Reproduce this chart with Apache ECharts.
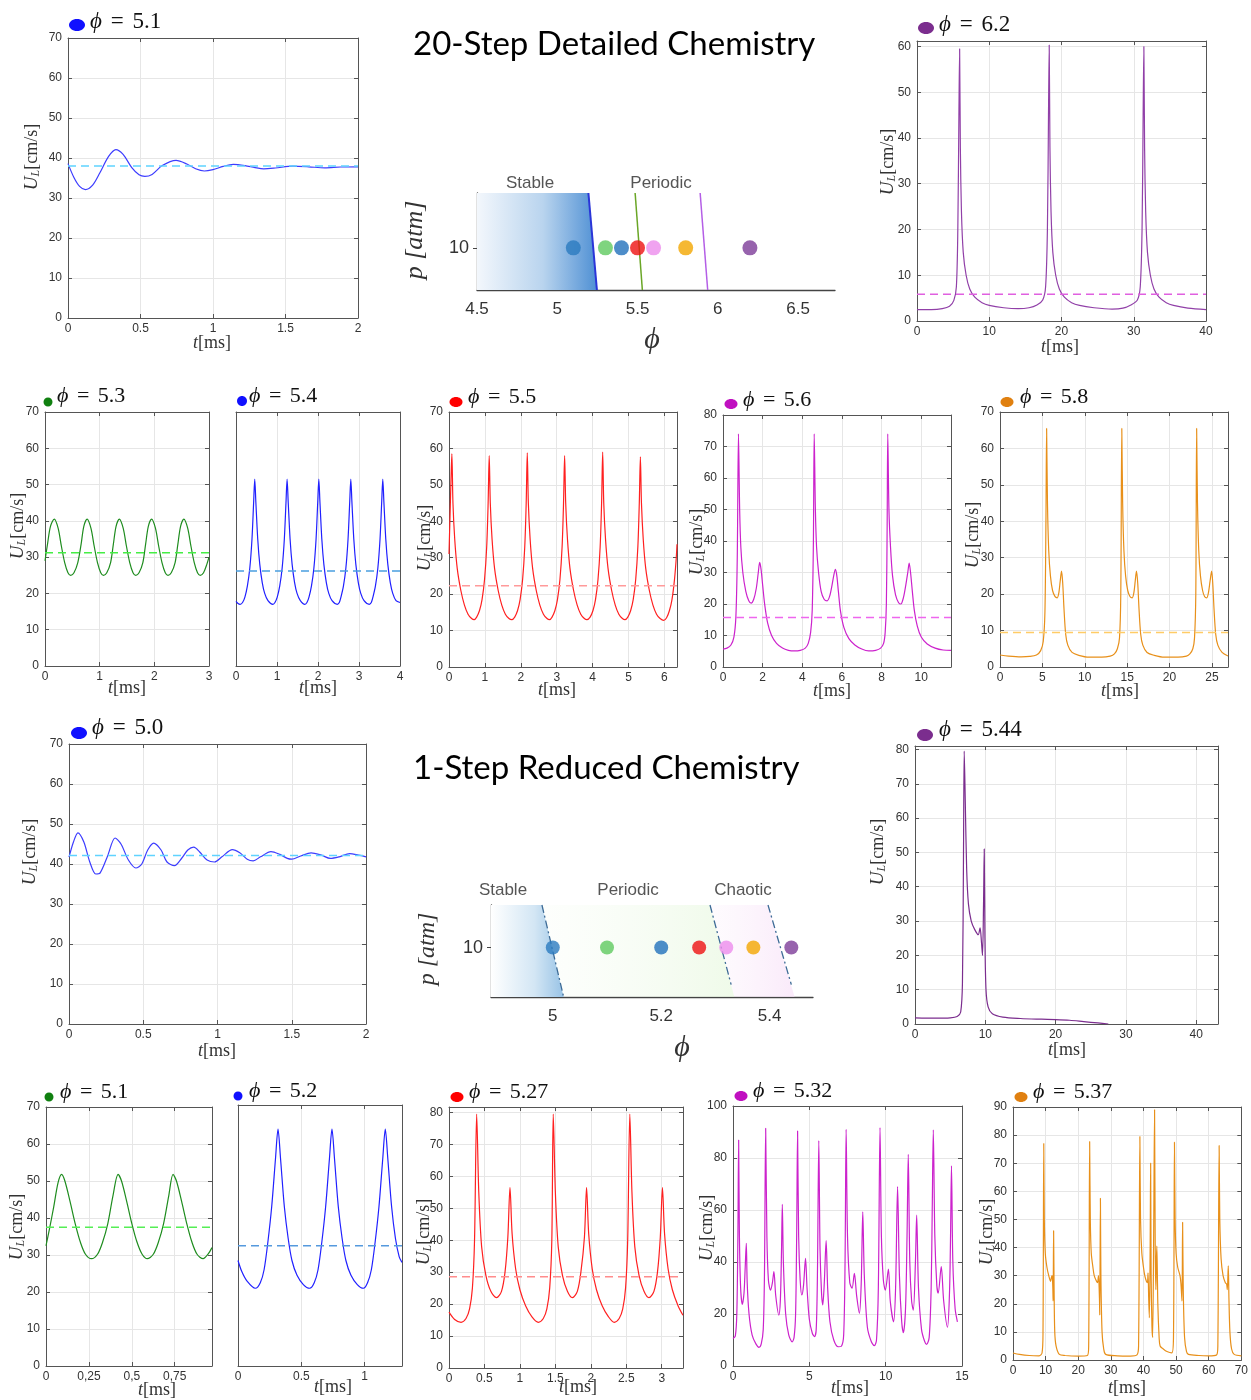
<!DOCTYPE html>
<html>
<head>
<meta charset="utf-8">
<title>Flame speed oscillations</title>
<script src="https://cdn.jsdelivr.net/npm/echarts@6.0.0/dist/echarts.min.js"></script>
<style>
html,body{margin:0;padding:0;background:#ffffff;}
#chart{width:1251px;height:1400px;}
</style>
</head>
<body>
<div id="chart"></div>
<script>
// ================= DATA =================
// 20-step detailed chemistry: [t (ms), U_L (cm/s)]
const det51 = [[0,38.6],[0.04,35.2],[0.08,32.9],[0.12,32.1],[0.17,33.2],[0.22,36.3],[0.28,40.4],[0.33,42.1],[0.38,40.9],[0.44,37.6],[0.49,35.8],[0.53,35.4],[0.58,35.9],[0.65,38.1],[0.745,39.4],[0.82,38.5],[0.88,37.3],[0.94,36.75],[1.0,37.1],[1.07,37.9],[1.14,38.4],[1.22,38.1],[1.29,37.6],[1.35,37.3],[1.43,37.5],[1.55,37.95],[1.66,37.8],[1.77,37.55],[1.88,37.75],[2.0,37.8]];
const det51Mean = 38.0;

const det62 = [[0,2.5],[2,2.5],[3.5,2.7],[4.5,3.2],[5.1,4.5],[5.45,7.5],[5.65,20],[5.8,45],[5.9,59.5],[6.0,38],[6.15,24],[6.4,15],[6.8,10],[7.3,7],[8,5.2],[9,4],[10,3.4],[12,2.9],[14,2.7],[15.5,2.9],[16.6,3.5],[17.4,4.6],[17.8,7.5],[18.05,20],[18.2,45],[18.3,60.3],[18.4,38],[18.55,24],[18.8,15],[19.2,10],[19.7,7],[20.4,5.2],[21.4,4],[22.5,3.4],[24.5,2.9],[27,2.6],[28.5,2.8],[29.6,3.5],[30.5,4.6],[30.9,7.5],[31.15,20],[31.3,45],[31.4,60],[31.5,38],[31.65,24],[31.9,15],[32.3,10],[32.8,7],[33.5,5.2],[34.5,4],[35.5,3.4],[37.5,2.8],[40,2.5]];
const det62Mean = 5.84;

const det53 = [[0,29],[0.05,34],[0.1,38.5],[0.17,40.5],[0.24,38],[0.3,33],[0.36,28.5],[0.42,25.7],[0.47,25],[0.53,25.7],[0.6,28.5],[0.66,33.5],[0.71,38.5],[0.77,40.5],[0.84,38],[0.9,33],[0.96,28.5],[1.02,25.7],[1.07,25],[1.13,25.7],[1.2,28.5],[1.25,33.5],[1.3,38.5],[1.36,40.5],[1.43,38],[1.49,33],[1.55,28.5],[1.61,25.7],[1.66,25],[1.72,25.7],[1.79,28.5],[1.84,33.5],[1.89,38.5],[1.95,40.5],[2.02,38],[2.08,33],[2.14,28.5],[2.2,25.7],[2.25,25],[2.31,25.7],[2.38,28.5],[2.43,33.5],[2.48,38.5],[2.54,40.5],[2.61,38],[2.67,33],[2.73,28.5],[2.79,25.7],[2.84,25],[2.9,25.7],[2.96,28],[3.0,30]];
const det53Mean = 31.2;

const det54 = [[0,17.8],[0.05,17.2],[0.1,17],[0.16,17.5],[0.217,19],[0.277,22],[0.337,27],[0.39,35],[0.43,45],[0.457,51.5],[0.485,45],[0.53,35],[0.58,28],[0.64,23],[0.7,20],[0.78,18],[0.9,17],[0.95,17.5],[1.006,19],[1.066,22],[1.126,27],[1.179,35],[1.219,45],[1.246,51.5],[1.274,45],[1.319,35],[1.369,28],[1.429,23],[1.489,20],[1.569,18],[1.68,17],[1.73,17.5],[1.78,19],[1.84,22],[1.9,27],[1.953,35],[1.993,45],[2.02,51.5],[2.048,45],[2.093,35],[2.143,28],[2.203,23],[2.263,20],[2.343,18],[2.47,17],[2.52,17.5],[2.56,19],[2.62,22],[2.68,27],[2.733,35],[2.773,45],[2.8,51.5],[2.828,45],[2.873,35],[2.923,28],[2.983,23],[3.043,20],[3.123,18],[3.25,17],[3.3,17.5],[3.34,19],[3.4,22],[3.46,27],[3.513,35],[3.553,45],[3.58,51.5],[3.608,45],[3.653,35],[3.703,28],[3.763,23],[3.823,20],[3.903,18],[4.0,17.5]];
const det54Mean = 26.2;

const det55 = [[0,31],[0.03,42],[0.06,53],[0.08,58.5],[0.11,45],[0.16,35],[0.23,27],[0.33,21],[0.43,17],[0.53,14.5],[0.63,13.3],[0.7,13],[0.77,13.7],[0.85,15.5],[0.92,18.5],[0.99,24],[1.05,33],[1.09,45],[1.12,58],[1.15,45],[1.2,35],[1.27,27],[1.37,21],[1.47,17],[1.57,14.5],[1.67,13.3],[1.75,13],[1.83,13.7],[1.91,15.5],[1.98,18.5],[2.05,24],[2.11,33],[2.15,45],[2.18,58.8],[2.21,45],[2.26,35],[2.33,27],[2.43,21],[2.53,17],[2.63,14.5],[2.73,13.3],[2.8,13],[2.87,13.7],[2.95,15.5],[3.02,18.5],[3.09,24],[3.15,33],[3.19,45],[3.22,58],[3.25,45],[3.3,35],[3.37,27],[3.47,21],[3.57,17],[3.67,14.5],[3.77,13.3],[3.84,13],[3.93,13.7],[4.01,15.5],[4.08,18.5],[4.15,24],[4.21,33],[4.25,45],[4.28,59],[4.31,45],[4.36,35],[4.43,27],[4.53,21],[4.63,17],[4.73,14.5],[4.83,13.3],[4.9,13],[4.98,13.7],[5.06,15.5],[5.13,18.5],[5.2,24],[5.26,33],[5.3,45],[5.33,57.7],[5.36,45],[5.41,35],[5.48,27],[5.58,21],[5.68,17],[5.78,14.5],[5.88,13.3],[5.98,12.8],[6.06,13.5],[6.14,15.5],[6.21,18.5],[6.28,24],[6.33,30],[6.35,33.7]];
const det55Mean = 22.3;

const det56 = [[0,5.7],[0.2,6],[0.4,7],[0.55,9.5],[0.65,16],[0.72,35],[0.78,74],[0.84,50],[0.9,38],[1.0,30],[1.15,24],[1.3,21],[1.42,20.3],[1.55,21.5],[1.68,25],[1.78,30],[1.85,33.2],[1.92,31],[2.0,26],[2.1,20],[2.25,14],[2.45,10],[2.7,7.5],[3.0,6],[3.3,5.3],[3.6,5.1],[3.9,5.3],[4.15,6],[4.3,7.5],[4.42,11],[4.5,18],[4.56,40],[4.6,74],[4.66,50],[4.72,38],[4.82,30],[4.95,24],[5.1,21.5],[5.25,21],[5.38,22.5],[5.5,26],[5.6,29.5],[5.67,31],[5.74,29],[5.82,24],[5.92,18],[6.1,12.5],[6.35,9],[6.65,7],[7.0,5.7],[7.35,5.1],[7.7,5.3],[7.95,6],[8.1,7.5],[8.18,11],[8.24,20],[8.28,45],[8.31,74],[8.37,50],[8.45,38],[8.55,29],[8.7,23],[8.85,20.5],[8.97,20],[9.1,22],[9.22,26],[9.32,30],[9.39,33],[9.46,30],[9.55,24],[9.65,18],[9.8,13],[10.0,9.5],[10.3,7.3],[10.7,6],[11.1,5.4],[11.5,5.3]];
const det56Mean = 15.7;

const det58 = [[0,3.3],[1,3],[2.5,2.8],[3.5,2.9],[4.3,3.3],[4.8,4.5],[5.1,7],[5.3,15],[5.42,40],[5.5,65.5],[5.6,45],[5.75,32],[5.95,25],[6.2,21],[6.5,19.3],[6.75,19],[6.95,20.5],[7.1,23.5],[7.26,26.3],[7.4,23],[7.55,16],[7.75,9],[8.0,6],[8.5,4],[9.3,3.2],[10.5,2.7],[12,2.7],[13,3],[13.5,3.6],[13.85,5],[14.1,8],[14.25,20],[14.37,65.5],[14.47,45],[14.62,32],[14.82,25],[15.07,21],[15.35,19.3],[15.6,19],[15.8,20.5],[15.95,23.5],[16.1,26.3],[16.25,23],[16.4,16],[16.6,9],[16.85,6],[17.35,4],[18.2,3.2],[19.4,2.7],[21,2.7],[22,3],[22.4,3.6],[22.75,5],[22.95,8],[23.1,20],[23.2,65.5],[23.3,45],[23.45,32],[23.65,25],[23.9,21],[24.15,19.3],[24.4,19],[24.6,20.5],[24.78,23.5],[24.97,26.3],[25.1,23],[25.25,16],[25.45,9],[25.7,6],[26.2,4],[26.9,3]];
const det58Mean = 9.5;

// 1-step reduced chemistry
const red50 = [[0,41.7],[0.03,45.5],[0.06,47.8],[0.1,45.5],[0.14,40.5],[0.18,37.5],[0.21,37.8],[0.26,42],[0.31,46.5],[0.35,45],[0.4,41],[0.45,39],[0.49,40],[0.53,43.5],[0.57,45.2],[0.62,43.5],[0.66,40.5],[0.71,39.6],[0.76,41.5],[0.8,43.5],[0.84,44.2],[0.88,43],[0.93,41],[0.98,40.5],[1.03,41.8],[1.1,43.6],[1.15,42.8],[1.2,41.2],[1.24,40.8],[1.29,41.8],[1.36,43.1],[1.42,42.4],[1.47,41.4],[1.5,41.2],[1.56,42],[1.63,42.8],[1.7,42.2],[1.76,41.4],[1.82,41.8],[1.89,42.6],[1.95,42.2],[2.0,41.8]];
const red50Mean = 42.1;

const red544 = [[0,1.8],[3,1.7],[5,1.8],[6,2.2],[6.5,3.5],[6.75,12],[6.9,50],[7.0,79.5],[7.15,65],[7.35,45],[7.6,35],[8.0,30],[8.5,27.5],[9.0,26],[9.25,28],[9.45,24],[9.6,20],[9.75,35],[9.85,51],[9.95,25],[10.1,10],[10.4,5],[11,3],[12.5,2],[15,1.6],[18,1.4],[20,1.3],[22,1.1],[24,0.7],[26,0.3],[27.5,0]];

const red51 = [[0,32.5],[0.02,37],[0.045,43],[0.07,49.5],[0.091,51.8],[0.11,50],[0.14,44.5],[0.17,38.5],[0.2,33.5],[0.23,30.2],[0.265,29],[0.3,30.2],[0.33,33.5],[0.36,38.5],[0.39,46],[0.42,51.8],[0.44,50],[0.47,44.5],[0.5,38.5],[0.53,33.5],[0.56,30.2],[0.59,29],[0.625,30.2],[0.655,33.5],[0.685,38.5],[0.715,46],[0.74,51.8],[0.76,50],[0.79,44.5],[0.82,38.5],[0.85,33.5],[0.88,30.2],[0.915,29],[0.945,30.3],[0.967,32]];
const red51Mean = 37.5;

const red52 = [[0,28.5],[0.03,25.5],[0.07,23],[0.137,21],[0.176,22.5],[0.206,26],[0.236,33.5],[0.266,43],[0.296,56],[0.316,64],[0.336,56],[0.366,43],[0.396,34.5],[0.426,28.5],[0.466,24.5],[0.516,22],[0.566,21],[0.602,22.5],[0.632,26],[0.662,33.5],[0.692,43],[0.722,56],[0.742,64],[0.762,56],[0.792,43],[0.822,34.5],[0.852,28.5],[0.892,24.5],[0.942,22],[0.99,21],[1.023,22.5],[1.053,26],[1.083,33.5],[1.113,43],[1.143,56],[1.163,64],[1.183,56],[1.213,43],[1.243,34.5],[1.273,29.5],[1.295,28]];
const red52Mean = 32.5;

const red527 = [[0,17.5],[0.08,15.2],[0.17,14.3],[0.24,15.5],[0.29,18.5],[0.33,25],[0.36,40],[0.39,79.5],[0.42,55],[0.46,38],[0.52,29],[0.59,24],[0.67,22],[0.74,24],[0.79,30],[0.83,41],[0.86,56.5],[0.89,42],[0.94,31],[1.0,24.5],[1.08,19.5],[1.17,16],[1.26,14.3],[1.33,15.5],[1.38,18.5],[1.42,25],[1.45,40],[1.47,79.5],[1.5,55],[1.54,38],[1.6,29],[1.67,24],[1.74,22],[1.81,24],[1.86,30],[1.91,41],[1.94,56.5],[1.97,42],[2.02,31],[2.08,24.5],[2.16,19.5],[2.25,16],[2.33,14.3],[2.4,15.5],[2.45,18.5],[2.49,25],[2.52,40],[2.55,79.5],[2.58,55],[2.62,38],[2.68,29],[2.75,24],[2.82,22],[2.89,24],[2.94,30],[2.98,41],[3.01,56.5],[3.04,42],[3.09,31],[3.15,24.5],[3.23,19.5],[3.3,16.5]];
const red527Mean = 28.6;

const red532 = [[0,10.6],[0.15,11.5],[0.25,20],[0.32,50],[0.37,86.9],[0.42,50],[0.5,30],[0.61,23.7],[0.72,28],[0.8,38],[0.87,47.2],[0.93,32],[1.05,20],[1.25,12],[1.5,8.5],[1.7,7.2],[1.85,8.5],[1.98,14],[2.06,35],[2.14,91.4],[2.22,50],[2.32,33],[2.46,29.2],[2.58,32],[2.68,36.3],[2.8,27],[3.0,19.6],[3.1,25],[3.18,45],[3.23,62.2],[3.3,40],[3.45,20],[3.65,12],[3.88,9.3],[4.0,11],[4.1,20],[4.17,50],[4.23,90.4],[4.3,50],[4.4,33],[4.51,27.3],[4.62,31],[4.75,41.4],[4.85,30],[5.0,18],[5.2,12.5],[5.34,11.3],[5.45,14],[5.53,35],[5.62,86.7],[5.7,45],[5.8,28],[5.88,23.5],[5.98,32],[6.1,48.2],[6.2,30],[6.35,17],[6.6,10],[6.9,7.4],[7.1,7.6],[7.25,12],[7.34,40],[7.41,91],[7.5,50],[7.65,32],[7.8,29.9],[7.95,35.6],[8.1,27],[8.28,20.3],[8.4,32],[8.5,59.3],[8.6,35],[8.8,15],[9.05,9.5],[9.26,7.8],[9.4,10],[9.52,30],[9.63,91.7],[9.72,50],[9.85,33],[9.98,29.2],[10.18,37.3],[10.3,25],[10.52,17],[10.65,30],[10.78,69],[10.9,35],[11.05,17],[11.16,12.8],[11.3,22],[11.4,50],[11.48,81.4],[11.58,40],[11.7,25],[11.81,21.5],[11.95,40],[12.03,58],[12.15,30],[12.35,14],[12.55,9.5],[12.68,8.3],[12.85,11],[12.98,30],[13.05,60],[13.12,90.8],[13.22,50],[13.35,31],[13.44,28],[13.64,38.2],[13.8,25],[14.05,14.9],[14.18,28],[14.25,50],[14.31,77],[14.4,40],[14.55,22],[14.7,17]];

const red537 = [[0,2.5],[2,2],[5,1.6],[8,1.5],[8.9,2.5],[9.2,10],[9.43,77],[9.6,50],[9.9,38],[10.4,33],[10.96,30],[11.5,28],[11.8,29.5],[12.0,30],[12.2,26],[12.3,21],[12.45,46],[12.6,25],[12.8,10],[13.2,5],[14.2,2],[16,1.6],[20,1.4],[22.8,1.6],[23.2,5],[23.5,77.7],[23.7,50],[24.0,38],[24.5,33],[24.9,30],[25.6,28],[25.9,27.5],[26.2,30],[26.5,22],[26.6,16],[26.8,57.5],[26.95,30],[27.3,10],[27.8,4],[28.4,2],[32,1.5],[36,1.4],[38,1.8],[38.5,5],[38.9,79.5],[39.1,50],[39.5,38],[40,33],[40.4,30],[40.9,28],[41.2,27.5],[41.4,31],[41.6,22],[41.8,15],[42.05,40],[42.2,70],[42.35,30],[42.6,12],[42.8,8],[43.1,40],[43.4,89],[43.6,40],[43.8,25],[43.95,35],[44.1,40.5],[44.4,20],[44.8,8],[45.1,5],[46,4],[47.2,3],[48.7,2.5],[49.2,8],[49.5,77.5],[49.7,50],[50.0,38],[50.5,33],[51.2,30],[51.5,27],[51.8,21],[52.0,49],[52.2,25],[52.6,8],[53.2,3],[53.8,2],[57,1.6],[60,1.5],[62.4,1.8],[62.8,5],[63.2,76.3],[63.4,50],[63.8,36],[64.4,30],[65.1,27.5],[65.5,27],[65.7,25],[66.0,33.5],[66.2,22],[66.5,10],[67,4],[67.8,2],[70,1.5]];

// Regime maps (phi vs p)
const detPhi = [5.1, 5.3, 5.4, 5.5, 5.6, 5.8, 6.2];
const redPhi = [5.0, 5.1, 5.2, 5.27, 5.32, 5.37, 5.44];
const mapP = 10;
const detTicks = [4.5, 5, 5.5, 6, 6.5];
const redTicks = [5, 5.2, 5.4];
const detStableRegion = [[4.5,23],[5.194,23],[5.247,0],[4.5,0]];
const detBoundStable = [[5.194,23],[5.247,0]];
const detBoundGreen = [[5.485,23],[5.53,0]];
const detBoundPurple = [[5.89,23],[5.937,0]];
const redStableRegion = [[4.886,18.6],[4.98,18.6],[5.02,0],[4.886,0]];
const redPeriodicRegion = [[4.98,18.6],[5.29,18.6],[5.335,0],[5.02,0]];
const redChaoticRegion = [[5.29,18.6],[5.397,18.6],[5.446,0],[5.335,0]];
const redBound1 = [[4.98,18.6],[5.02,0]];
const redBound2 = [[5.29,18.6],[5.329,2.5]];
const redBound3 = [[5.397,18.6],[5.44,2.5]];

// ================= STYLE / LAYOUT =================
const SANS = "'Liberation Sans', Arial, Helvetica, sans-serif";
const SERIF = "'Liberation Serif','DejaVu Serif','Times New Roman',serif";
const AX = '#555';
const GRID = '#e6e6e6';
const dotColors = ['#2b7bbf', '#5fc95f', '#2070bb', '#ee1111', '#ec8cec', '#f2a600', '#7d3c98'];

const panels = [
 {data:det51, mean:det51Mean, grid:[68,38,290,280], x:[0,2,0.5], y:[0,70,10], line:'#3c3cff', dash:'#5fd3ff', dot:'#1010ff', dotC:[77,25], dotR:[8,6], ttl:[90,22], phi:'5.1', fs:23, ylab:[32,157], xlab:[212,343]},
 {data:det62, mean:det62Mean, grid:[917,41,289,280], x:[0,40,10], y:[0,61.2,10], line:'#9140a8', dash:'#e060e0', dot:'#7b2d8e', dotC:[926,28], dotR:[8,6], ttl:[939,25], phi:'6.2', fs:23, ylab:[888,162], xlab:[1060,347]},
 {data:det53, mean:det53Mean, grid:[45,412,164,254], x:[0,3,1], y:[0,70,10], line:'#1e8c1e', dash:'#45ee45', dot:'#108010', dotC:[48,402], dotR:[4.5,4.5], ttl:[57,396], phi:'5.3', fs:22, ylab:[18,526], xlab:[127,688]},
 {data:det54, mean:det54Mean, grid:[236,412,164,254], x:[0,4,1], y:[0,70,10], hideY:true, line:'#2020ff', dash:'#4a9fe0', dot:'#1010ff', dotC:[242,401], dotR:[5,5], ttl:[249,396], phi:'5.4', fs:22, xlab:[318,688]},
 {data:det55, mean:det55Mean, grid:[449,412,228,255], x:[0,6.35,1], y:[0,70,10], line:'#ff2020', dash:'#ff9a9a', dot:'#ff0000', dotC:[456,402], dotR:[6.5,5], ttl:[468,397], phi:'5.5', fs:22, ylab:[425,538], xlab:[557,690]},
 {data:det56, mean:det56Mean, grid:[723,415,228,252], x:[0,11.5,2], y:[0,80,10], line:'#cc22cc', dash:'#ee66ee', dot:'#c010c0', dotC:[731,404], dotR:[6.5,5], ttl:[743,400], phi:'5.6', fs:22, ylab:[697,542], xlab:[832,691]},
 {data:det58, mean:det58Mean, grid:[1000,412,228,255], x:[0,26.9,5], y:[0,70,10], line:'#e8901a', dash:'#ffcc66', dot:'#e08010', dotC:[1007,402], dotR:[6.5,5], ttl:[1020,397], phi:'5.8', fs:22, ylab:[973,535], xlab:[1120,691]},
 {data:red50, mean:red50Mean, grid:[69,744,297,280], x:[0,2,0.5], y:[0,70,10], line:'#3c3cff', dash:'#5fd3ff', dot:'#1010ff', dotC:[79,733], dotR:[8,6], ttl:[92,728], phi:'5.0', fs:23, ylab:[30,852], xlab:[217,1051]},
 {data:red544, mean:null, grid:[915,746,303,278], x:[0,43.1,10], y:[0,81,10], line:'#7b2d8e', dot:'#7b2d8e', dotC:[925,735], dotR:[8,6], ttl:[939,730], phi:'5.44', fs:23, ylab:[878,852], xlab:[1067,1050]},
 {data:red51, mean:red51Mean, grid:[46,1107,166,259], x:[0,0.967,0.25], comma:true, y:[0,70,10], line:'#1e8c1e', dash:'#55ee55', dot:'#108010', dotC:[49,1097], dotR:[4.5,4.5], ttl:[60,1092], phi:'5.1', fs:22, ylab:[17,1227], xlab:[157,1390]},
 {data:red52, mean:red52Mean, grid:[238,1105,164,261], x:[0,1.295,0.5], y:[0,70.5,10], hideY:true, line:'#2020ff', dash:'#5599dd', dot:'#1010ff', dotC:[238,1096], dotR:[4.5,4.5], ttl:[249,1091], phi:'5.2', fs:22, xlab:[333,1387]},
 {data:red527, mean:red527Mean, grid:[449,1107,234,261], x:[0,3.3,0.5], y:[0,81.7,10], line:'#ff2020', dash:'#ff8c8c', dot:'#ff0000', dotC:[457,1097], dotR:[6.5,5], ttl:[469,1092], phi:'5.27', fs:22, ylab:[424,1232], xlab:[578,1387]},
 {data:red532, mean:null, grid:[733,1106,229,260], x:[0,15,5], y:[0,100,20], line:'#cc22cc', dot:'#c010c0', dotC:[741,1096], dotR:[6.5,5], ttl:[753,1091], phi:'5.32', fs:22, ylab:[707,1228], xlab:[850,1388]},
 {data:red537, mean:null, grid:[1013,1107,230,253], x:[0,70,10], y:[0,90,10], line:'#e8901a', dot:'#e08010', dotC:[1021,1097], dotR:[6.5,5], ttl:[1033,1092], phi:'5.37', fs:22, ylab:[987,1232], xlab:[1127,1388]}
];

function fmt(v, step, comma) {
  const k = v / step;
  if (Math.abs(k - Math.round(k)) > 1e-6) return '';
  let s = String(+(+v).toFixed(4));
  if (comma) s = s.replace('.', ',');
  return s;
}

const grids = [], xAxes = [], yAxes = [], series = [], graphics = [];

panels.forEach((p, i) => {
  grids.push({left:p.grid[0], top:p.grid[1], width:p.grid[2], height:p.grid[3]});
  const xi = xAxes.length, yi = yAxes.length;
  const lineBase = {onZero:false, lineStyle:{color:AX, width:1}};
  xAxes.push({gridIndex:i, type:'value', position:'bottom', min:p.x[0], max:p.x[1], interval:p.x[2],
    axisLine:lineBase, axisTick:{inside:true, length:4, lineStyle:{color:AX}},
    axisLabel:{color:'#333', fontSize:12, fontFamily:SANS, margin:5, formatter:v => fmt(v, p.x[2], p.comma)},
    splitLine:{show:true, lineStyle:{color:GRID, width:1}}});
  xAxes.push({gridIndex:i, type:'value', position:'top', min:p.x[0], max:p.x[1], interval:p.x[2],
    axisLine:lineBase, axisTick:{inside:true, length:4, lineStyle:{color:AX}},
    axisLabel:{show:false}, splitLine:{show:false}});
  yAxes.push({gridIndex:i, type:'value', position:'left', min:p.y[0], max:p.y[1], interval:p.y[2],
    axisLine:lineBase, axisTick:{show:!p.hideY, inside:true, length:4, lineStyle:{color:AX}},
    axisLabel:{show:!p.hideY, color:'#333', fontSize:12, fontFamily:SANS, margin:6, formatter:v => fmt(v, p.y[2])},
    splitLine:{show:!p.hideY, lineStyle:{color:GRID, width:1}}});
  yAxes.push({gridIndex:i, type:'value', position:'right', min:p.y[0], max:p.y[1], interval:p.y[2],
    axisLine:lineBase, axisTick:{show:!p.hideY, inside:true, length:4, lineStyle:{color:AX}},
    axisLabel:{show:false}, splitLine:{show:false}});
  series.push({type:'line', xAxisIndex:xi, yAxisIndex:yi, data:p.data, showSymbol:false, symbol:'none',
    smooth:0.3, lineStyle:{color:p.line, width:1.2}, z:3});
  if (p.mean != null) {
    series.push({type:'line', xAxisIndex:xi, yAxisIndex:yi, data:[[p.x[0], p.mean],[p.x[1], p.mean]],
      showSymbol:false, symbol:'none', lineStyle:{color:p.dash, width:1.5, type:[8,5]}, z:4});
  }
  // title: coloured dot + phi = value
  graphics.push({type:'ellipse', shape:{cx:p.dotC[0], cy:p.dotC[1], rx:p.dotR[0], ry:p.dotR[1]}, style:{fill:p.dot}});
  graphics.push({type:'text', x:p.ttl[0], y:p.ttl[1], style:{
    text:'{p|ϕ}{e| = }{n|' + p.phi + '}', align:'left', verticalAlign:'middle',
    rich:{p:{fontFamily:SERIF, fontStyle:'italic', fontSize:p.fs, fill:'#111'},
          e:{fontFamily:SERIF, fontSize:p.fs, fill:'#111', padding:[0,3,0,3]},
          n:{fontFamily:SERIF, fontSize:p.fs, fill:'#111'}}}});
  if (p.ylab) {
    graphics.push({type:'text', x:p.ylab[0], y:p.ylab[1], rotation:Math.PI/2, style:{
      text:'{u|U}{l|L}{r|[cm/s]}', align:'center', verticalAlign:'middle',
      rich:{u:{fontFamily:SERIF, fontStyle:'italic', fontSize:19, fill:'#333', lineHeight:20},
            l:{fontFamily:SERIF, fontStyle:'italic', fontSize:12, fill:'#333', verticalAlign:'bottom', lineHeight:12},
            r:{fontFamily:SERIF, fontSize:18, fill:'#333', lineHeight:20}}}});
  }
  graphics.push({type:'text', x:p.xlab[0], y:p.xlab[1], style:{
    text:'{t|t}{r|[ms]}', align:'center', verticalAlign:'middle',
    rich:{t:{fontFamily:SERIF, fontStyle:'italic', fontSize:18, fill:'#333'},
          r:{fontFamily:SERIF, fontSize:18, fill:'#333'}}}});
});

// ---------- regime maps ----------
function polygonSeries(gi, region, fill) {
  return {type:'custom', xAxisIndex:gi.x, yAxisIndex:gi.y, data:[[region[0][0], region[0][1]]], silent:true, z:1,
    renderItem:(params, api) => ({type:'polygon', shape:{points:region.map(pt => api.coord(pt))}, style:{fill:fill}})};
}
function segSeries(gi, seg, color, width, type) {
  return {type:'line', xAxisIndex:gi.x, yAxisIndex:gi.y, data:seg, showSymbol:false, symbol:'none',
    lineStyle:{color:color, width:width, type:type || 'solid'}, z:3};
}
function dotSeries(gi, phis, size) {
  return {type:'scatter', xAxisIndex:gi.x, yAxisIndex:gi.y, symbolSize:size, z:5,
    data:phis.map((f, k) => ({value:[f, mapP], itemStyle:{color:dotColors[k]}}))};
}

const maps = [
  {grid:[477,193,358,97], x:[4.5,6.73], y:[0,23], ticks:detTicks},
  {grid:[491,905,322,92], x:[4.886,5.48], y:[0,18.6], ticks:redTicks}
];
maps.forEach((m) => {
  const gIdx = grids.length;
  grids.push({left:m.grid[0], top:m.grid[1], width:m.grid[2], height:m.grid[3]});
  const gi = {x:xAxes.length, y:yAxes.length};
  xAxes.push({gridIndex:gIdx, type:'value', min:m.x[0], max:m.x[1],
    axisLine:{onZero:false, lineStyle:{color:'#444', width:1.3}}, axisTick:{show:false},
    axisLabel:{customValues:m.ticks, color:'#333', fontSize:17, fontFamily:SANS, margin:11, formatter:v => String(+(+v).toFixed(2))},
    splitLine:{show:false}});
  yAxes.push({gridIndex:gIdx, type:'value', min:m.y[0], max:m.y[1],
    axisLine:{onZero:false, lineStyle:{color:'#444', width:1.3}},
    axisTick:{show:true, customValues:[mapP], length:4, lineStyle:{color:'#444'}},
    axisLabel:{customValues:[mapP], color:'#333', fontSize:18, fontFamily:SANS, margin:8},
    splitLine:{show:false}});
  m.gi = gi;
});

const g1 = maps[0].gi, g2 = maps[1].gi;
series.push(polygonSeries(g1, detStableRegion, new echarts.graphic.LinearGradient(0,0,1,0,[{offset:0,color:'#f3f7fc'},{offset:0.55,color:'#b9d4ee'},{offset:1,color:'#4f90d4'}])));
series.push(segSeries(g1, detBoundStable, '#2a35d8', 2));
series.push(segSeries(g1, detBoundGreen, '#6aa626', 1.5));
series.push(segSeries(g1, detBoundPurple, '#b45ee6', 1.5));
series.push(dotSeries(g1, detPhi, 15));

series.push(polygonSeries(g2, redPeriodicRegion, new echarts.graphic.LinearGradient(0,0,1,0,[{offset:0,color:'rgba(242,251,238,0.15)'},{offset:1,color:'rgba(228,247,218,0.6)'}])));
series.push(polygonSeries(g2, redChaoticRegion, new echarts.graphic.LinearGradient(0,0,1,0,[{offset:0,color:'rgba(251,240,251,0.25)'},{offset:1,color:'rgba(247,222,247,0.65)'}])));
series.push(polygonSeries(g2, redStableRegion, new echarts.graphic.LinearGradient(0,0,1,0,[{offset:0,color:'#ffffff'},{offset:0.6,color:'#d3e6f4'},{offset:1,color:'#98c3e6'}])));
series.push(segSeries(g2, redBound1, '#3d6b96', 1.3, [8,3,2,3]));
series.push(segSeries(g2, redBound2, '#3d6b96', 1.3, [8,3,2,3]));
series.push(segSeries(g2, redBound3, '#3d6b96', 1.3, [8,3,2,3]));
series.push(dotSeries(g2, redPhi, 14));

// map annotations
function plainText(x, y, text, size, color, family, style, rot) {
  return {type:'text', x:x, y:y, rotation:rot || 0, style:{text:text, fontSize:size, fontFamily:family, fontStyle:style || 'normal', fill:color, align:'center', verticalAlign:'middle'}};
}
graphics.push(plainText(530, 183, 'Stable', 17, '#555', SANS));
graphics.push(plainText(661, 183, 'Periodic', 17, '#555', SANS));
graphics.push(plainText(415, 240, 'p [atm]', 26, '#333', SERIF, 'italic', Math.PI/2));
graphics.push(plainText(652, 340, 'ϕ', 30, '#333', SERIF, 'italic'));
graphics.push(plainText(503, 890, 'Stable', 17, '#555', SANS));
graphics.push(plainText(628, 890, 'Periodic', 17, '#555', SANS));
graphics.push(plainText(743, 890, 'Chaotic', 17, '#555', SANS));
graphics.push(plainText(428, 949, 'p [atm]', 24, '#333', SERIF, 'italic', Math.PI/2));
graphics.push(plainText(682, 1048, 'ϕ', 30, '#333', SERIF, 'italic'));

// main headings
graphics.push({type:'text', x:413, y:44, style:{text:'20-Step Detailed Chemistry', fontSize:33, fontFamily:"Lato, 'Open Sans', sans-serif", fill:'#000', align:'left', verticalAlign:'middle'}});
graphics.push({type:'text', x:413, y:768, style:{text:'1-Step Reduced Chemistry', fontSize:33, fontFamily:"Lato, 'Open Sans', sans-serif", fill:'#000', align:'left', verticalAlign:'middle'}});

const chart = echarts.init(document.getElementById('chart'), null, {renderer:'canvas', width:1251, height:1400});
chart.setOption({
  animation:false,
  backgroundColor:'#ffffff',
  grid:grids, xAxis:xAxes, yAxis:yAxes, series:series, graphic:graphics
});
</script>
</body>
</html>
